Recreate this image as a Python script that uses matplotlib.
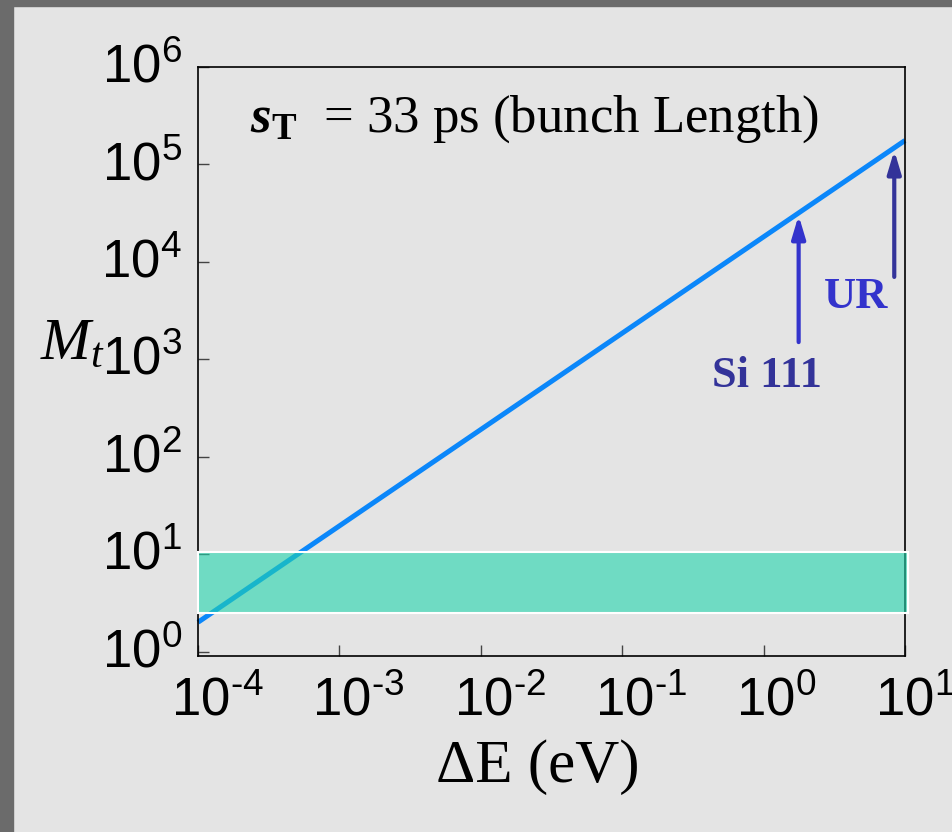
import matplotlib
matplotlib.use("Agg")
import matplotlib.pyplot as plt
import matplotlib.transforms as mtransforms
from matplotlib.patches import Rectangle
from matplotlib.ticker import FixedLocator, NullLocator

# ── Fonts ─────────────────────────────────────────────────────────────────────
plt.rcParams["mathtext.fontset"] = "custom"
plt.rcParams["mathtext.rm"] = "Liberation Sans"
plt.rcParams["mathtext.it"] = "Liberation Serif:italic"
plt.rcParams["mathtext.bf"] = "Liberation Serif:bold"
plt.rcParams["mathtext.bfit"] = "Liberation Serif:italic:bold"
plt.rcParams["mathtext.sf"] = "Liberation Sans"

# ── Data ──────────────────────────────────────────────────────────────────────
line_de = [1e-4, 1e1]          # Delta E (eV), ends of the curve
line_mt = [2.0, 1.76e5]        # M_t at those ends
band_lo, band_hi = 2.46, 10.6  # green acceptance band

si_x, si_tail, si_tip = 1.77, 1.5e3, 3.0e4   # Si 111 arrow
ur_x, ur_tail, ur_tip = 8.4, 7.0e3, 1.39e5   # UR arrow
si_label_pos = (1.05, 670)
ur_label_pos = (4.5, 4330)

xtick_vals = [1e-4, 1e-3, 1e-2, 1e-1, 1e0, 1e1]
xtick_labels = [r"$\mathsf{10^{\text{-}4}}$", r"$\mathsf{10^{\text{-}3}}$",
                r"$\mathsf{10^{\text{-}2}}$", r"$\mathsf{10^{\text{-}1}}$",
                r"$\mathsf{10^{0}}$", r"$\mathsf{10^{1}}$"]
ytick_vals = [1e0, 1e1, 1e2, 1e3, 1e4, 1e5, 1e6]
ytick_labels = [r"$\mathsf{10^{%d}}$" % k for k in range(7)]

BG = "#e4e4e4"

fig = plt.figure(figsize=(9.53, 8.32), dpi=100, facecolor=BG)
# dark frame strips on the left and top
fig.patches.append(Rectangle((0, 0), 13 / 953, 1, transform=fig.transFigure,
                             color="#6b6b6b", zorder=0))
fig.patches.append(Rectangle((0, 1 - 6 / 832), 1, 6 / 832, transform=fig.transFigure,
                             color="#6b6b6b", zorder=0))

ax = fig.add_axes([0.2078, 0.2115, 0.7418, 0.708])
ax.patch.set_visible(False)
ax.set_xscale("log")
ax.set_yscale("log")
ax.set_xlim(1e-4, 1e1)
ax.set_ylim(10 ** -0.046, 1e6)

ax.plot(line_de, line_mt, color="#0b87fa", lw=3.6, solid_capstyle="butt",
        clip_on=False, zorder=2)
ax.axhspan(band_lo, band_hi, xmin=0, xmax=1.004, facecolor="#21d5ad", alpha=0.6,
           edgecolor="none", clip_on=False, zorder=3)
ax.axhspan(band_lo, band_hi, xmin=0, xmax=1.004, facecolor="none",
           edgecolor="white", lw=1.5, clip_on=False, zorder=3)

arrow_style = "-|>,head_length=0.9,head_width=0.27"
ax.annotate("", xy=(si_x, si_tip), xytext=(si_x, si_tail),
            arrowprops=dict(arrowstyle=arrow_style, color="#3333cc", lw=3,
                            mutation_scale=15, shrinkA=0, shrinkB=0), zorder=4)
ax.annotate("", xy=(ur_x, ur_tip), xytext=(ur_x, ur_tail),
            arrowprops=dict(arrowstyle=arrow_style, color="#333399", lw=3,
                            mutation_scale=15, shrinkA=0, shrinkB=0), zorder=4)
ax.text(*si_label_pos, "Si 111", ha="center", va="center", fontsize=32,
        fontweight="bold", color="#333399", family="Liberation Serif")
ax.text(*ur_label_pos, "UR", ha="center", va="center", fontsize=32,
        fontweight="bold", color="#3333cc", family="Liberation Serif")

ax.text(0.0735, 0.8897, r"$\mathbfit{s}_{\mathbf{T}}$  = 33 ps (bunch Length)",
        transform=ax.transAxes, fontsize=38, family="Liberation Serif",
        va="baseline", ha="left")

# ── Axes styling ──────────────────────────────────────────────────────────────
for sp in ax.spines.values():
    sp.set_linewidth(1.2)
    sp.set_color("black")

ax.xaxis.set_major_locator(FixedLocator(xtick_vals))
ax.yaxis.set_major_locator(FixedLocator(ytick_vals))
ax.xaxis.set_minor_locator(NullLocator())
ax.yaxis.set_minor_locator(NullLocator())
ax.set_xticklabels(xtick_labels)
ax.set_yticklabels(ytick_labels)
ax.tick_params(axis="both", direction="in", length=8, width=1, color="#444444",
               top=False, right=False, labelsize=38)
ax.tick_params(axis="x", pad=13.5)
ax.tick_params(axis="y", pad=11.5)

# x labels: the "10" sits on the tick, exponent hangs to the right
x_shift_px = [19, 19, 19, 19, 13, 10]
for lab, dx in zip(ax.get_xticklabels(), x_shift_px):
    lab.set_transform(lab.get_transform() +
                      mtransforms.ScaledTranslation(dx / 100, 0, fig.dpi_scale_trans))
for lab in ax.get_yticklabels():
    lab.set_transform(lab.get_transform() +
                      mtransforms.ScaledTranslation(0, 5 / 100, fig.dpi_scale_trans))

ax.set_ylabel(r"$M_t$", rotation=0, fontsize=43, ha="right", va="center")
ax.yaxis.set_label_coords(-0.1315, 0.533)
ax.set_xlabel("ΔE (eV)", fontsize=44, family="Liberation Serif", va="top")
ax.xaxis.set_label_coords(0.481, -0.142)

fig.savefig("out.png", dpi=100, facecolor=BG)
